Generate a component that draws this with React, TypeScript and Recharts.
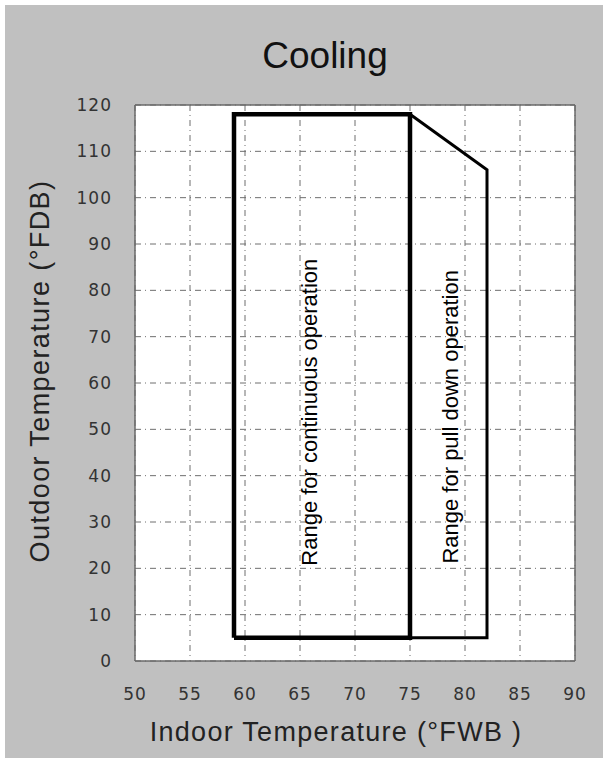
import React from 'react';
import { ComposedChart, Line, XAxis, YAxis, CartesianGrid, ReferenceLine, ReferenceDot } from 'recharts';

const xTicks = [50, 55, 60, 65, 70, 75, 80, 85, 90];
const yTicks = [0, 10, 20, 30, 40, 50, 60, 70, 80, 90, 100, 110, 120];

const continuousRange = [
  { x: 59, y: 5 },
  { x: 59, y: 118 },
  { x: 75, y: 118 },
  { x: 75, y: 5 },
  { x: 59, y: 5 },
];

const pullDownRange = [
  { x: 75, y: 118 },
  { x: 82, y: 106 },
  { x: 82, y: 5 },
  { x: 75, y: 5 },
];

const regionLabels = [
  { x: 66.55, y: 53.7, text: 'Range for continuous operation' },
  { x: 79.36, y: 52.7, text: 'Range for pull down operation' },
];

const FONT = '"Liberation Sans", Arial, sans-serif';
const TICK_FONT = '"DejaVu Sans", Verdana, sans-serif';

const RotatedText = (props: any) => {
  const { cx, cy, text } = props;
  return (
    <text
      x={cx}
      y={cy}
      transform={`rotate(-90, ${cx}, ${cy})`}
      textAnchor="middle"
      fontFamily={FONT}
      fontSize={22}
      fill="#000"
    >
      {text}
    </text>
  );
};

export default function App() {
  return (
    <div style={{ position: 'absolute', left: 0, top: 0, width: 605, height: 760, background: '#fff', overflow: 'hidden' }}>
      <div style={{ position: 'absolute', left: 5, top: 5, width: 598, height: 753, background: '#c0c0c0' }} />
      <div
        style={{
          position: 'absolute',
          left: 225,
          width: 200,
          top: 37,
          textAlign: 'center',
          fontFamily: FONT,
          fontSize: 37,
          lineHeight: '37px',
          color: '#111',
        }}
      >
        Cooling
      </div>
      <div style={{ position: 'absolute', left: 0, top: 0 }}>
        <ComposedChart
          width={605}
          height={760}
          margin={{ top: 105, right: 30, bottom: 69, left: 75 }}
        >
          <CartesianGrid
            fill="#fff"
            stroke="#6e6e6e"
            strokeDasharray="6 4 1 4"
            strokeWidth={1}
          />
          <XAxis
            dataKey="x"
            type="number"
            domain={[50, 90]}
            ticks={xTicks}
            allowDataOverflow
            height={30}
            tickSize={0}
            tickMargin={27}
            axisLine={{ stroke: '#6a6a6a', strokeWidth: 1.5 }}
            tickLine={false}
            tick={{ fontFamily: TICK_FONT, fontSize: 17, fill: '#333', letterSpacing: 1 }}
            label={{
              value: 'Indoor Temperature (°FWB )',
              position: 'bottom',
              offset: 31,
              dx: -19,
              style: { fontFamily: FONT, fontSize: 27, fill: '#222', letterSpacing: 1.3 },
            }}
          />
          <YAxis
            dataKey="y"
            type="number"
            domain={[0, 120]}
            ticks={yTicks}
            allowDataOverflow
            width={60}
            tickSize={0}
            tickMargin={23}
            axisLine={{ stroke: '#6a6a6a', strokeWidth: 1.5 }}
            tickLine={false}
            tick={{ fontFamily: TICK_FONT, fontSize: 17, fill: '#333', letterSpacing: 1 }}
            label={{
              value: 'Outdoor Temperature (°FDB)',
              angle: -90,
              position: 'insideLeft',
              content: (p: any) => {
                const vb = p.viewBox || { x: 75, y: 105, width: 60, height: 556 };
                const x = vb.x - 26;
                const y = vb.y + vb.height / 2 - 12;
                return (
                  <text
                    x={x}
                    y={y}
                    transform={`rotate(-90, ${x}, ${y})`}
                    textAnchor="middle"
                    fontFamily={FONT}
                    fontSize={27}
                    letterSpacing={1.4}
                    fill="#222"
                  >
                    Outdoor Temperature (°FDB)
                  </text>
                );
              },
            }}
          />
          <ReferenceLine y={120} stroke="#6a6a6a" strokeWidth={1.5} />
          <ReferenceLine x={90} stroke="#6a6a6a" strokeWidth={1.5} />
          <Line
            data={pullDownRange}
            dataKey="y"
            type="linear"
            stroke="#000"
            strokeWidth={3}
            dot={false}
            activeDot={false}
            isAnimationActive={false}
          />
          <Line
            data={continuousRange}
            dataKey="y"
            type="linear"
            stroke="#000"
            strokeWidth={4.5}
            dot={false}
            activeDot={false}
            isAnimationActive={false}
          />
          {regionLabels.map((l) => (
            <ReferenceDot
              key={l.text}
              x={l.x}
              y={l.y}
              r={0}
              shape={(p: any) => <RotatedText cx={p.cx} cy={p.cy} text={l.text} />}
            />
          ))}
        </ComposedChart>
      </div>
    </div>
  );
}
